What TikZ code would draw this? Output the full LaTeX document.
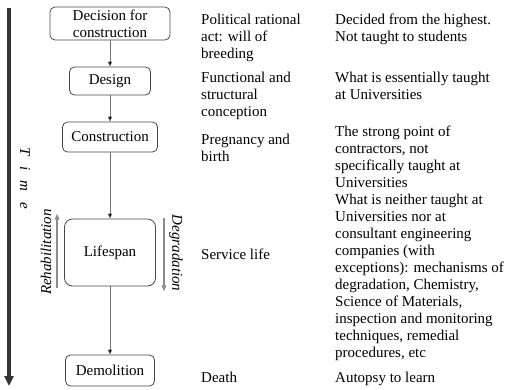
\documentclass[tikz,border=0pt]{standalone}
\usepackage{fontspec}
\setmainfont{Liberation Serif}
\usetikzlibrary{arrows.meta}

\begin{document}
\begin{tikzpicture}[
    x=1pt, y=-1pt,
    font=\fontsize{15}{17}\selectfont,
    stage/.style={draw=black!72, line width=0.8pt, rounded corners=5pt, align=center, inner sep=0pt},
    flow/.style={draw=black!55, -{Triangle[length=5pt,width=4pt,fill=black]}},
    cycle/.style={draw=black!45, line width=1.5pt, -{Triangle[length=6pt,width=4.5pt]}},
    note/.style={anchor=north west, align=left, inner sep=0pt}
]
    \useasboundingbox (0,0) rectangle (505,389);

    % Time axis
    \coordinate (tstart) at (9,8);
    \coordinate (tend) at (9,386);
    \draw[line width=3.5pt, black!80, -{Triangle[length=10pt,width=9pt]}] (tstart) -- (tend);
    \node[rotate=-90, font=\fontsize{15}{17}\selectfont\itshape] (time) at (25,178)
        {T\hspace{10.5pt}i\hspace{10.5pt}m\hspace{10.5pt}e};

    % Stages
    \node[stage, minimum width=120pt, minimum height=33pt] (decision) at (110,23.5) {Decision for\\construction};
    \node[stage, minimum width=81pt, minimum height=28pt] (design) at (110,81) {Design};
    \node[stage, minimum width=95pt, minimum height=30pt] (construction) at (110,137) {Construction};
    \node[stage, rounded corners=8pt, minimum width=91pt, minimum height=67pt] (lifespan) at (110,252.5) {Lifespan};
    \node[stage, minimum width=89pt, minimum height=31pt] (demolition) at (110,370.5) {Demolition};

    % Stage transitions
    \draw[flow] (decision) -- (design);
    \draw[flow] (design) -- (construction);
    \draw[flow] (construction) -- (lifespan);
    \draw[flow] (lifespan) -- (demolition);

    % Rehabilitation / degradation
    \coordinate (rehabfrom) at ([xshift=-7pt,yshift=-2pt]lifespan.south west);
    \coordinate (rehabto) at ([xshift=-7pt,yshift=5pt]lifespan.north west);
    \coordinate (degfrom) at ([xshift=8pt,yshift=1pt]lifespan.north east);
    \coordinate (degto) at ([xshift=8pt,yshift=-5pt]lifespan.south east);
    \draw[cycle] (rehabfrom) -- (rehabto);
    \draw[cycle] (degfrom) -- (degto);
    \node[rotate=90, font=\fontsize{15}{17}\selectfont\itshape] (rehab) at (46,252) {Rehabilitation};
    \node[rotate=-90, font=\fontsize{15}{17}\selectfont\itshape] (degrad) at (176,253) {Degradation};

    % What each stage is
    \node[note] (will) at (201,14) {Political rational\\act: will of\\breeding};
    \node[note] (conception) at (201,72) {Functional and\\structural\\conception};
    \node[note] (birth) at (201,134) {Pregnancy and\\birth};
    \node[note] (service) at (201,249) {Service life};
    \node[note] (death) at (201,372) {Death};

    % Where it is learnt
    \node[note] (highest) at (335,14) {Decided from the highest.\\Not taught to students};
    \node[note] (taught) at (335,72) {What is essentially taught\\at Universities};
    \node[note] (contractors) at (335,125.5) {The strong point of\\contractors, not\\specifically taught at\\Universities};
    \node[note] (neither) at (335,193.5) {What is neither taught at\\Universities nor at\\consultant engineering\\companies (with\\exceptions): mechanisms of\\degradation, Chemistry,\\Science of Materials,\\inspection and monitoring\\techniques, remedial\\procedures, etc};
    \node[note] (autopsy) at (335,372) {Autopsy to learn};
\end{tikzpicture}
\end{document}
